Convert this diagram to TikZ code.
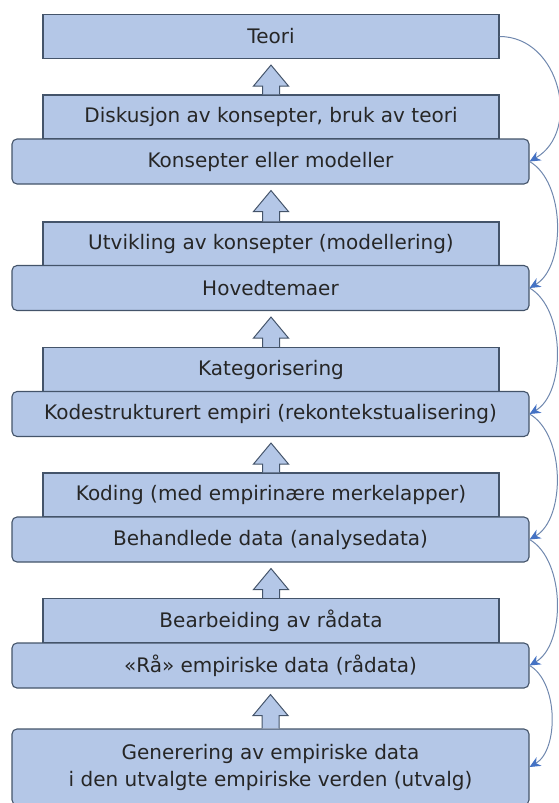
\documentclass[tikz,border=0pt]{standalone}
\usepackage{fontspec}
\setmainfont{DejaVu Sans}
\usepackage{tikz}
\usetikzlibrary{arrows.meta,calc}

\definecolor{boxfill}{HTML}{B4C7E7}
\definecolor{boxline}{HTML}{44546A}
\definecolor{loopline}{HTML}{7088AE}
\definecolor{looptip}{HTML}{4472C4}

% up arrow from the lower node (#1) to the upper node (#2)
\newcommand{\stepup}[2]{%
	\draw[blockarrow] let \p1=(#1.north), \p2=(#2.south) in
		(\x1-8.5pt,\y1) -- (\x1-8.5pt,\y2-27pt) -- (\x1-17.5pt,\y2-27pt) -- (\x1,\y2-6pt)
		-- (\x1+17.5pt,\y2-27pt) -- (\x1+8.5pt,\y2-27pt) -- (\x1+8.5pt,\y1);
}

\begin{document}
\begin{tikzpicture}[x=1pt,y=1pt]
	\tikzstyle{step box}=[rectangle,draw=boxline,fill=boxfill,line width=1.1pt,minimum width=456pt,minimum height=44pt,inner sep=0pt,text=black!85,font=\fontsize{20}{27}\selectfont]
	\tikzstyle{level box}=[step box,rounded corners=5pt,minimum width=517pt,minimum height=45pt]
	\tikzstyle{blockarrow}=[draw=boxline,fill=boxfill,line width=1pt,line join=miter]
	\tikzstyle{loop}=[draw=loopline,line width=1pt,-{Stealth[length=11pt,width=10pt,color=looptip]}]
	\useasboundingbox (0,0) rectangle (558,-803);
	\node[step box] (teori) at (271,-36.5) {Teori};
	\node[step box] (diskusjon) at (271,-117) {Diskusjon av konsepter, bruk av teori};
	\node[level box] (konsepter) at (270.5,-161.5) {Konsepter eller modeller};
	\node[step box] (utvikling) at (271,-244) {Utvikling av konsepter (modellering)};
	\node[level box] (hovedtemaer) at (270.5,-288) {Hovedtemaer};
	\node[step box] (kategorisering) at (271,-369.5) {Kategorisering};
	\node[level box] (kodestrukturert) at (270.5,-414) {Kodestrukturert empiri (rekontekstualisering)};
	\node[step box] (koding) at (271,-495) {Koding (med empirinære merkelapper)};
	\node[level box] (behandlede) at (270.5,-539.5) {Behandlede data (analysedata)};
	\node[step box] (bearbeiding) at (271,-620.5) {Bearbeiding av rådata};
	\node[level box] (raadata) at (270.5,-665.5) {«Rå» empiriske data (rådata)};
	\node[level box,minimum height=76pt,align=center] (generering) at (270.5,-767) {Generering av empiriske data\\i den utvalgte empiriske verden (utvalg)};
	\stepup{diskusjon}{teori}
	\stepup{utvikling}{konsepter}
	\stepup{kategorisering}{hovedtemaer}
	\stepup{koding}{kodestrukturert}
	\stepup{bearbeiding}{behandlede}
	\stepup{generering}{raadata}
	\draw[loop] (teori.east) to[out=0,in=30,looseness=1.2] (konsepter.east);
	\draw[loop] (konsepter.east) to[out=-30,in=30,looseness=0.85] (hovedtemaer.east);
	\draw[loop] (hovedtemaer.east) to[out=-30,in=30,looseness=0.85] (kodestrukturert.east);
	\draw[loop] (kodestrukturert.east) to[out=-30,in=30,looseness=0.85] (behandlede.east);
	\draw[loop] (behandlede.east) to[out=-30,in=30,looseness=0.85] (raadata.east);
	\draw[loop] (raadata.east) to[out=-30,in=30,looseness=0.85] (generering.east);
\end{tikzpicture}
\end{document}
